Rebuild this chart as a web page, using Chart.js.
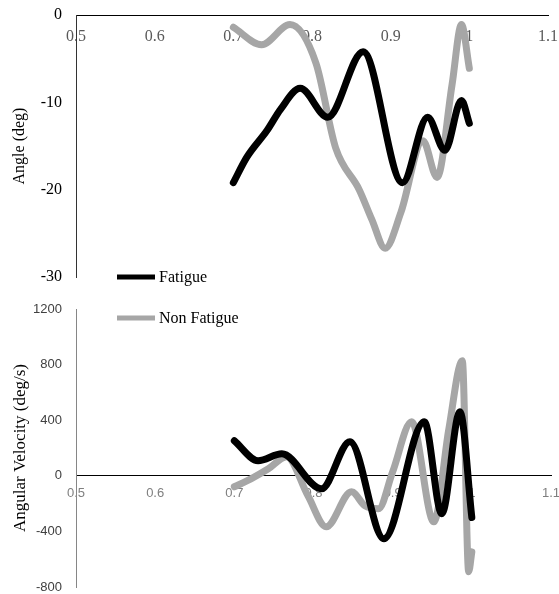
<!DOCTYPE html>
<html>
<head>
<meta charset="utf-8">
<script src="https://cdn.jsdelivr.net/npm/chart.js@4.4.1/dist/chart.umd.min.js"></script>
<style>
body { margin: 0; background: #fff; }
#wrap { position: relative; width: 559px; height: 594px; }
canvas { position: absolute; left: 0; }
#anguloChart { top: 0; }
#velocidadChart { top: 262px; }
</style>
</head>
<body>
<div id="wrap">
  <canvas id="anguloChart" width="559" height="300"></canvas>
  <canvas id="velocidadChart" width="559" height="332"></canvas>
</div>
<script>
// datos
const seriesNames = ["Fatigue", "Non Fatigue"];

const fatigueAngleX = [0.700, 0.717, 0.743, 0.760, 0.785, 0.820, 0.865, 0.915, 0.947, 0.969, 0.990, 1.000];
const fatigueAngle = [-19.2, -16.3, -13.2, -10.8, -8.4, -11.7, -4.2, -19.2, -11.7, -15.5, -9.8, -12.4];

const nonFatigueAngleX = [0.700, 0.736, 0.772, 0.805, 0.830, 0.860, 0.876, 0.893, 0.913, 0.941, 0.959, 0.978, 0.990, 1.000];
const nonFatigueAngle = [-1.4, -3.4, -1.1, -5.5, -15.2, -20.0, -23.4, -26.7, -22.6, -14.4, -18.6, -8.0, -1.1, -6.1];

const fatigueVelX = [0.700, 0.730, 0.760, 0.810, 0.846, 0.889, 0.940, 0.962, 0.985, 1.000];
const fatigueVel = [252, 108, 158, -94, 245, -453, 388, -273, 460, -300];

const nonFatigueVelX = [0.700, 0.721, 0.743, 0.766, 0.793, 0.816, 0.848, 0.865, 0.882, 0.900, 0.924, 0.952, 0.971, 0.988, 0.996, 1.000];
const nonFatigueVel = [-79, -22, 50, 137, -144, -367, -115, -216, -237, 29, 388, -331, 338, 827, -690, -547];

const xTicks = [0.5, 0.6, 0.7, 0.8, 0.9, 1.0, 1.1];
const angleTicks = [0, -10, -20, -30];
const velTicks = [1200, 800, 400, 0, -400, -800];

const negro = "#000000";
const gris = "#a6a6a6";

function puntos(xs, ys) {
    var out = [];
    for (var i = 0; i < xs.length; i++) {
        out.push({ x: xs[i], y: ys[i] });
    }
    return out;
}

function serie(label, xs, ys, color) {
    return {
        label: label,
        data: puntos(xs, ys),
        borderColor: color,
        backgroundColor: color,
        borderWidth: 7,
        pointRadius: 0,
        showLine: true,
        cubicInterpolationMode: "monotone",
        borderCapStyle: "round",
        borderJoinStyle: "round"
    };
}

// leyenda dibujada en el hueco entre los dos graficos
const leyendaPlugin = {
    id: "leyenda",
    afterDraw(chart, args, opts) {
        if (!opts || !opts.show) return;
        const ctx = chart.ctx;
        chart.data.datasets.forEach((ds, i) => {
            const y = opts.y + i * opts.gap;
            ctx.save();
            ctx.strokeStyle = ds.borderColor;
            ctx.lineWidth = 5;
            ctx.beginPath();
            ctx.moveTo(opts.x, y);
            ctx.lineTo(opts.x + 38, y);
            ctx.stroke();
            ctx.fillStyle = "#000";
            ctx.font = '16px "Liberation Serif"';
            ctx.textBaseline = "middle";
            ctx.fillText(ds.label, opts.x + 42, y + 1);
            ctx.restore();
        });
    }
};

function opcionesX(fuente, color, pad) {
    return {
        type: "linear",
        position: { y: 0 },
        min: 0.5,
        max: 1.1,
        afterBuildTicks: s => { s.ticks = xTicks.map(v => ({ value: v })); },
        afterFit: s => { s.paddingLeft = 0; s.paddingRight = 0; s.height = 0; },
        ticks: {
            font: fuente,
            color: color,
            padding: pad,
            maxRotation: 0,
            autoSkip: false,
            callback: v => String(Math.round(v * 10) / 10)
        },
        grid: { drawOnChartArea: false, drawTicks: false },
        border: { color: "#000", width: 1 }
    };
}

function opcionesY(min, max, ticks, fuente, color, titulo, tituloFont, bordeColor) {
    return {
        type: "linear",
        position: "left",
        min: min,
        max: max,
        afterBuildTicks: s => { s.ticks = ticks.map(v => ({ value: v })); },
        afterFit: s => { s.width = 76; s.paddingTop = 0; s.paddingBottom = 0; },
        ticks: {
            font: fuente,
            color: color,
            padding: 14,
            callback: v => String(v)
        },
        title: {
            display: true,
            text: titulo,
            font: tituloFont,
            color: "#000",
            padding: { top: 10, bottom: 0 }
        },
        grid: { drawOnChartArea: false, drawTicks: false },
        border: { color: bordeColor, width: 1 }
    };
}

const serif16 = { family: "Liberation Serif", size: 16 };
const sans13 = { family: "Liberation Sans", size: 13 };

const chartAngulo = new Chart(document.getElementById("anguloChart"), {
    type: "scatter",
    data: {
        datasets: [
            serie(seriesNames[0], fatigueAngleX, fatigueAngle, negro),
            serie(seriesNames[1], nonFatigueAngleX, nonFatigueAngle, gris)
        ]
    },
    options: {
        responsive: false,
        animation: false,
        layout: { padding: { top: 15, bottom: 23, left: 0, right: 11 } },
        scales: {
            x: opcionesX(serif16, "#595959", 12),
            y: opcionesY(-30, 0, angleTicks, serif16, "#000", "Angle (deg)", { family: "Liberation Serif", size: 16 }, "#333")
        },
        plugins: {
            legend: { display: false },
            tooltip: { enabled: false },
            leyenda: { show: false }
        }
    },
    plugins: [leyendaPlugin]
});

const chartVelocidad = new Chart(document.getElementById("velocidadChart"), {
    type: "scatter",
    data: {
        datasets: [
            serie(seriesNames[0], fatigueVelX, fatigueVel, negro),
            serie(seriesNames[1], nonFatigueVelX, nonFatigueVel, gris)
        ]
    },
    options: {
        responsive: false,
        animation: false,
        layout: { padding: { top: 47, bottom: 7, left: 0, right: 8 } },
        scales: {
            x: opcionesX(sans13, "#7f7f7f", 10),
            y: opcionesY(-800, 1200, velTicks, sans13, "#404040", "Angular Velocity (deg/s)", { family: "Liberation Serif", size: 17 }, "#868686")
        },
        plugins: {
            legend: { display: false },
            tooltip: { enabled: false },
            leyenda: { show: true, x: 117, y: 15, gap: 41 }
        }
    },
    plugins: [leyendaPlugin]
});
</script>
</body>
</html>
